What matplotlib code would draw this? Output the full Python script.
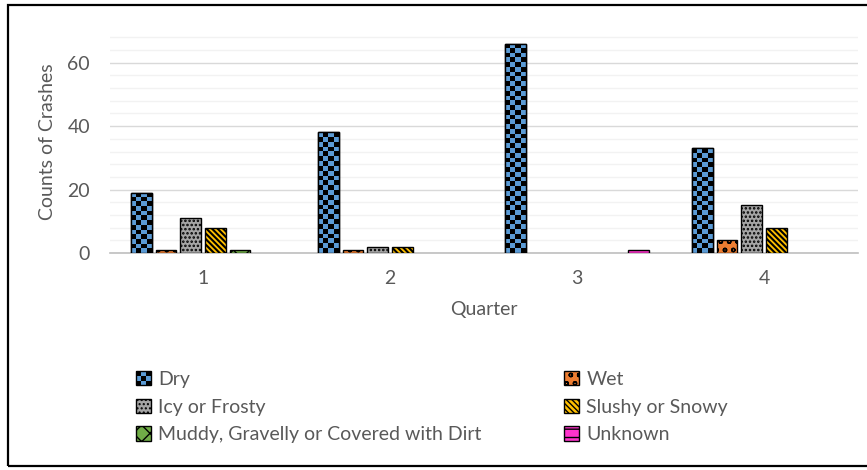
import numpy as np
import matplotlib
matplotlib.use("Agg")
import matplotlib.pyplot as plt
from matplotlib.patches import Rectangle
from matplotlib.legend_handler import HandlerBase

# ---- data ----
quarters = ["1", "2", "3", "4"]
series_names = ["Dry", "Wet", "Icy or Frosty", "Slushy or Snowy",
                "Muddy, Gravelly or Covered with Dirt", "Unknown"]
dry = [19, 38, 66, 33]
wet = [1, 1, 0, 4]
icy = [11, 2, 0, 15]
slushy = [8, 2, 0, 8]
muddy = [1, 0, 0, 0]
unknown = [0, 0, 1, 0]
values = [dry, wet, icy, slushy, muddy, unknown]

colors = ["#5B9BD5", "#ED7D31", "#A5A5A5", "#FFC000", "#70AD47", "#FF33CC"]
hatches = [None, "oo", "....", "\\\\\\\\\\\\", "xx", "--"]
hatch_lw = [1.0, 1.0, 1.2, 1.5, 1.0, 1.0]

TXT = "#595959"
plt.rcParams["font.family"] = ["Lato", "DejaVu Sans"]
plt.rcParams["hatch.color"] = "black"

W, H = 867, 470
fig = plt.figure(figsize=(W / 100, H / 100), dpi=100)
ax = fig.add_axes([109.5 / W, 1 - 253 / H, (857.5 - 109.5) / W, (253 - 31) / H])

x = np.arange(len(quarters)) + 1
n = len(values)
step = 0.132
bw = 0.112
ax.set_xlim(0.5, 4.5)
ax.set_ylim(0, 70)

bars_all = []
for i, (vals, c, h, lw) in enumerate(zip(values, colors, hatches, hatch_lw)):
    plt.rcParams["hatch.linewidth"] = lw
    off = (i - (n - 1) / 2) * step
    bars = ax.bar(x + off, vals, width=bw, color=c, edgecolor="black",
                  linewidth=1.0, hatch=h, zorder=3, label=series_names[i])
    for r in bars:
        if r.get_height() == 0:
            r.set_visible(False)
    bars_all.append(bars)

# checkerboard pattern for Dry bars
fig.canvas.draw()
sq = 4.8  # pixel size of squares
blue = np.array(matplotlib.colors.to_rgb(colors[0]))
for rect in bars_all[0]:
    x0, y0 = rect.get_x(), rect.get_y()
    w, hgt = rect.get_width(), rect.get_height()
    if hgt == 0:
        continue
    p0 = ax.transData.transform((x0, y0))
    p1 = ax.transData.transform((x0 + w, y0 + hgt))
    nc = max(1, int(round((p1[0] - p0[0]) / sq)))
    nr = max(1, int(round((p1[1] - p0[1]) / sq)))
    grid = (np.add.outer(np.arange(nr), np.arange(nc)) % 2)
    img = np.zeros((nr, nc, 3))
    img[grid == 0] = blue
    im = ax.imshow(img, extent=(x0, x0 + w, y0, y0 + hgt), aspect="auto",
                   interpolation="nearest", zorder=3.5, origin="lower")
    im.set_clip_path(rect)
    ax.add_patch(Rectangle((x0, y0), w, hgt, fill=False, edgecolor="black",
                           linewidth=1.0, zorder=4))
ax.set_xlim(0.5, 4.5)
ax.set_ylim(0, 70)

# axes styling
ax.set_yticks([0, 20, 40, 60])
ax.set_yticks(np.arange(4, 69, 4), minor=True)
ax.grid(axis="y", which="major", color="#D9D9D9", linewidth=1.0, zorder=0)
ax.grid(axis="y", which="minor", color="#F2F2F2", linewidth=1.0, zorder=0)
ax.set_xticks(x)
ax.set_xticklabels(quarters)
for s in ["top", "right", "left"]:
    ax.spines[s].set_visible(False)
ax.spines["bottom"].set_color("#BFBFBF")
ax.spines["bottom"].set_linewidth(1.2)
ax.tick_params(axis="both", which="both", length=0, colors=TXT, labelsize=14)
ax.tick_params(axis="x", pad=12)
ax.tick_params(axis="y", pad=14)
ax.set_xlabel("Quarter", color=TXT, fontsize=14, labelpad=10)
ax.set_ylabel("Counts of Crashes", color=TXT, fontsize=14, labelpad=8)


class CheckerHandler(HandlerBase):
    def create_artists(self, legend, orig_handle, xdescent, ydescent,
                       width, height, fontsize, trans):
        arts = [Rectangle((-xdescent, -ydescent), width, height,
                          facecolor=colors[0], edgecolor="none", transform=trans)]
        k = 3
        cw, ch = width / k, height / k
        for r in range(k):
            for cidx in range(k):
                if (r + cidx) % 2 == 0:
                    arts.append(Rectangle((-xdescent + cidx * cw, -ydescent + r * ch),
                                          cw, ch, facecolor="black",
                                          edgecolor="none", transform=trans))
        arts.append(Rectangle((-xdescent, -ydescent), width, height,
                              fill=False, edgecolor="black", linewidth=1.0,
                              transform=trans))
        return arts


handles = [b.patches[0] for b in bars_all]
handles[5] = bars_all[5].patches[2]
leg_kw = dict(loc="upper left", frameon=False, fontsize=14, labelcolor=TXT,
              handlelength=0.75, handleheight=0.75, handletextpad=0.4,
              labelspacing=0.55, borderpad=0, borderaxespad=0)
leg1 = fig.legend([handles[0], handles[2], handles[4]],
                  [series_names[0], series_names[2], series_names[4]],
                  bbox_to_anchor=(136 / W, 1 - 371 / H),
                  handler_map={handles[0]: CheckerHandler()}, **leg_kw)
leg2 = fig.legend([handles[1], handles[3], handles[5]],
                  [series_names[1], series_names[3], series_names[5]],
                  bbox_to_anchor=(564 / W, 1 - 371 / H), **leg_kw)

# outer frame
fig.patches.append(Rectangle((8 / W, 1 - 466 / H), (880 - 8) / W, (466 - 5) / H,
                             transform=fig.transFigure, fill=False,
                             edgecolor="black", linewidth=1.6))

fig.savefig("out.png", dpi=100)
